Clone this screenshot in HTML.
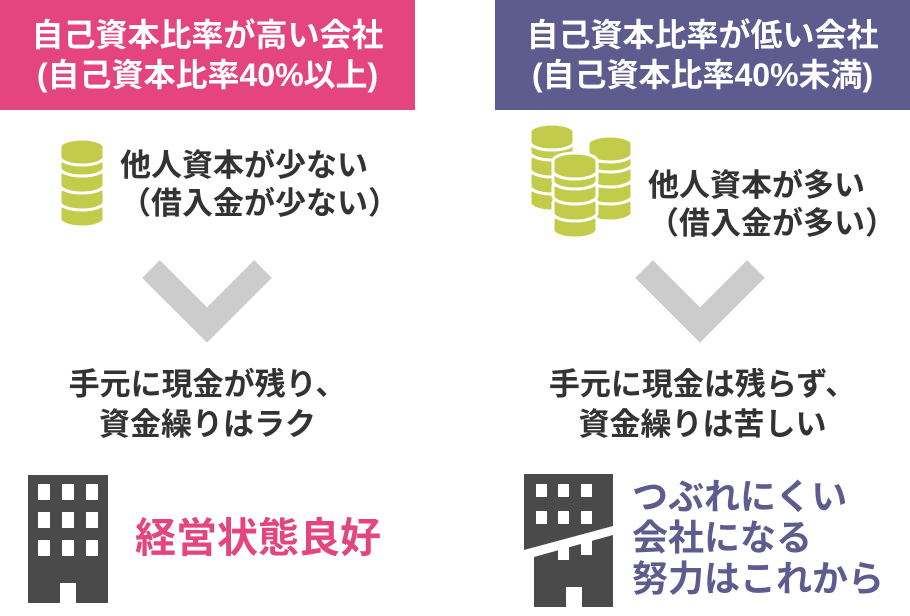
<!DOCTYPE html>
<html><head><meta charset="utf-8"><style>
body{margin:0;width:910px;height:616px;background:#fff;position:relative;overflow:hidden;font-family:"Liberation Sans","Noto Sans CJK JP",sans-serif;font-weight:bold}
.hd{position:absolute;top:0;height:110px;width:415px;color:#fff;font-size:32px;line-height:40px;text-align:center;display:flex;flex-direction:column;justify-content:center}
.t{position:absolute;color:#333;font-size:31px;line-height:38px;white-space:nowrap}
.c{text-align:center}
</style></head><body>
<div class="hd" style="left:0;background:#e4457e">自己資本比率が高い会社<br>(自己資本比率40%以上)</div>
<div class="hd" style="left:495px;background:#5e5b8f">自己資本比率が低い会社<br>(自己資本比率40%未満)</div>
<svg width="910" height="616" style="position:absolute;left:0;top:0">
<defs>
<g id="layer"><path d="M-22,0 A22,8 0 0 0 22,0 L22,-10 A22,8 0 0 0 -22,-10 Z" fill="#c3cc4a" stroke="#fff" stroke-width="3"/></g>
</defs>
<g>
<use href="#layer" x="82" y="219"/><use href="#layer" x="82" y="202"/><use href="#layer" x="82" y="185"/><use href="#layer" x="82" y="168"/><use href="#layer" x="82" y="157"/>
</g>
<g>
<use href="#layer" x="552" y="203"/><use href="#layer" x="552" y="186"/><use href="#layer" x="552" y="169"/><use href="#layer" x="552" y="152"/><use href="#layer" x="552" y="142"/>
<use href="#layer" x="610" y="213"/><use href="#layer" x="610" y="196"/><use href="#layer" x="610" y="179"/><use href="#layer" x="610" y="164"/><use href="#layer" x="610" y="154"/>
<use href="#layer" x="575" y="230"/><use href="#layer" x="575" y="213"/><use href="#layer" x="575" y="196"/><use href="#layer" x="575" y="181"/><use href="#layer" x="575" y="171"/>
</g>
<polyline points="151,269 207,325 263,269" fill="none" stroke="#ccc" stroke-width="25"/>
<polyline points="644,269 700,325 756,269" fill="none" stroke="#ccc" stroke-width="25"/>
<rect x="28" y="475" width="80" height="128" fill="#4a4a4a"/>
<g fill="#fff">
<rect x="38" y="484" width="12" height="16"/><rect x="62" y="484" width="12" height="16"/><rect x="86" y="484" width="12" height="16"/>
<rect x="38" y="512" width="12" height="16"/><rect x="62" y="512" width="12" height="16"/><rect x="86" y="512" width="12" height="16"/>
<rect x="38" y="540" width="12" height="16"/><rect x="62" y="540" width="12" height="16"/><rect x="86" y="540" width="12" height="16"/>
<rect x="60" y="583" width="16" height="20"/></g>
<path d="M524,474 H613 V526 L524,550 Z" fill="#4a4a4a"/>
<path d="M534,557 L613,535 V607 H534 Z" fill="#4a4a4a"/>
<g fill="#fff">
<rect x="536" y="484" width="11" height="13"/><rect x="558" y="484" width="11" height="13"/><rect x="581" y="484" width="11" height="13"/>
<rect x="536" y="511" width="11" height="13"/><rect x="558" y="511" width="11" height="13"/><rect x="581" y="511" width="11" height="13"/>
<rect x="558" y="546" width="11" height="14"/><rect x="581" y="541" width="11" height="14"/>
<rect x="566" y="587" width="16" height="20"/></g>
</svg>
<div class="t" style="left:120px;top:147px">他人資本が少ない<br>（借入金が少ない）</div>
<div class="t" style="left:648px;top:167px">他人資本が多い<br>（借入金が多い）</div>
<div class="t c" style="left:0;width:415px;top:365px;line-height:40px;font-size:31px">手元に現金が残り、<br>資金繰りはラク</div>
<div class="t c" style="left:495px;width:415px;top:365px;line-height:40px;font-size:31px">手元に現金は残らず、<br>資金繰りは苦しい</div>
<div class="t" style="left:135px;top:514px;color:#e4457e;font-size:41px;line-height:48px">経営状態良好</div>
<div class="t" style="left:632px;top:476px;color:#5e5b8f;font-size:36px;line-height:41px">つぶれにくい<br>会社になる<br>努力はこれから</div>
</body></html>
